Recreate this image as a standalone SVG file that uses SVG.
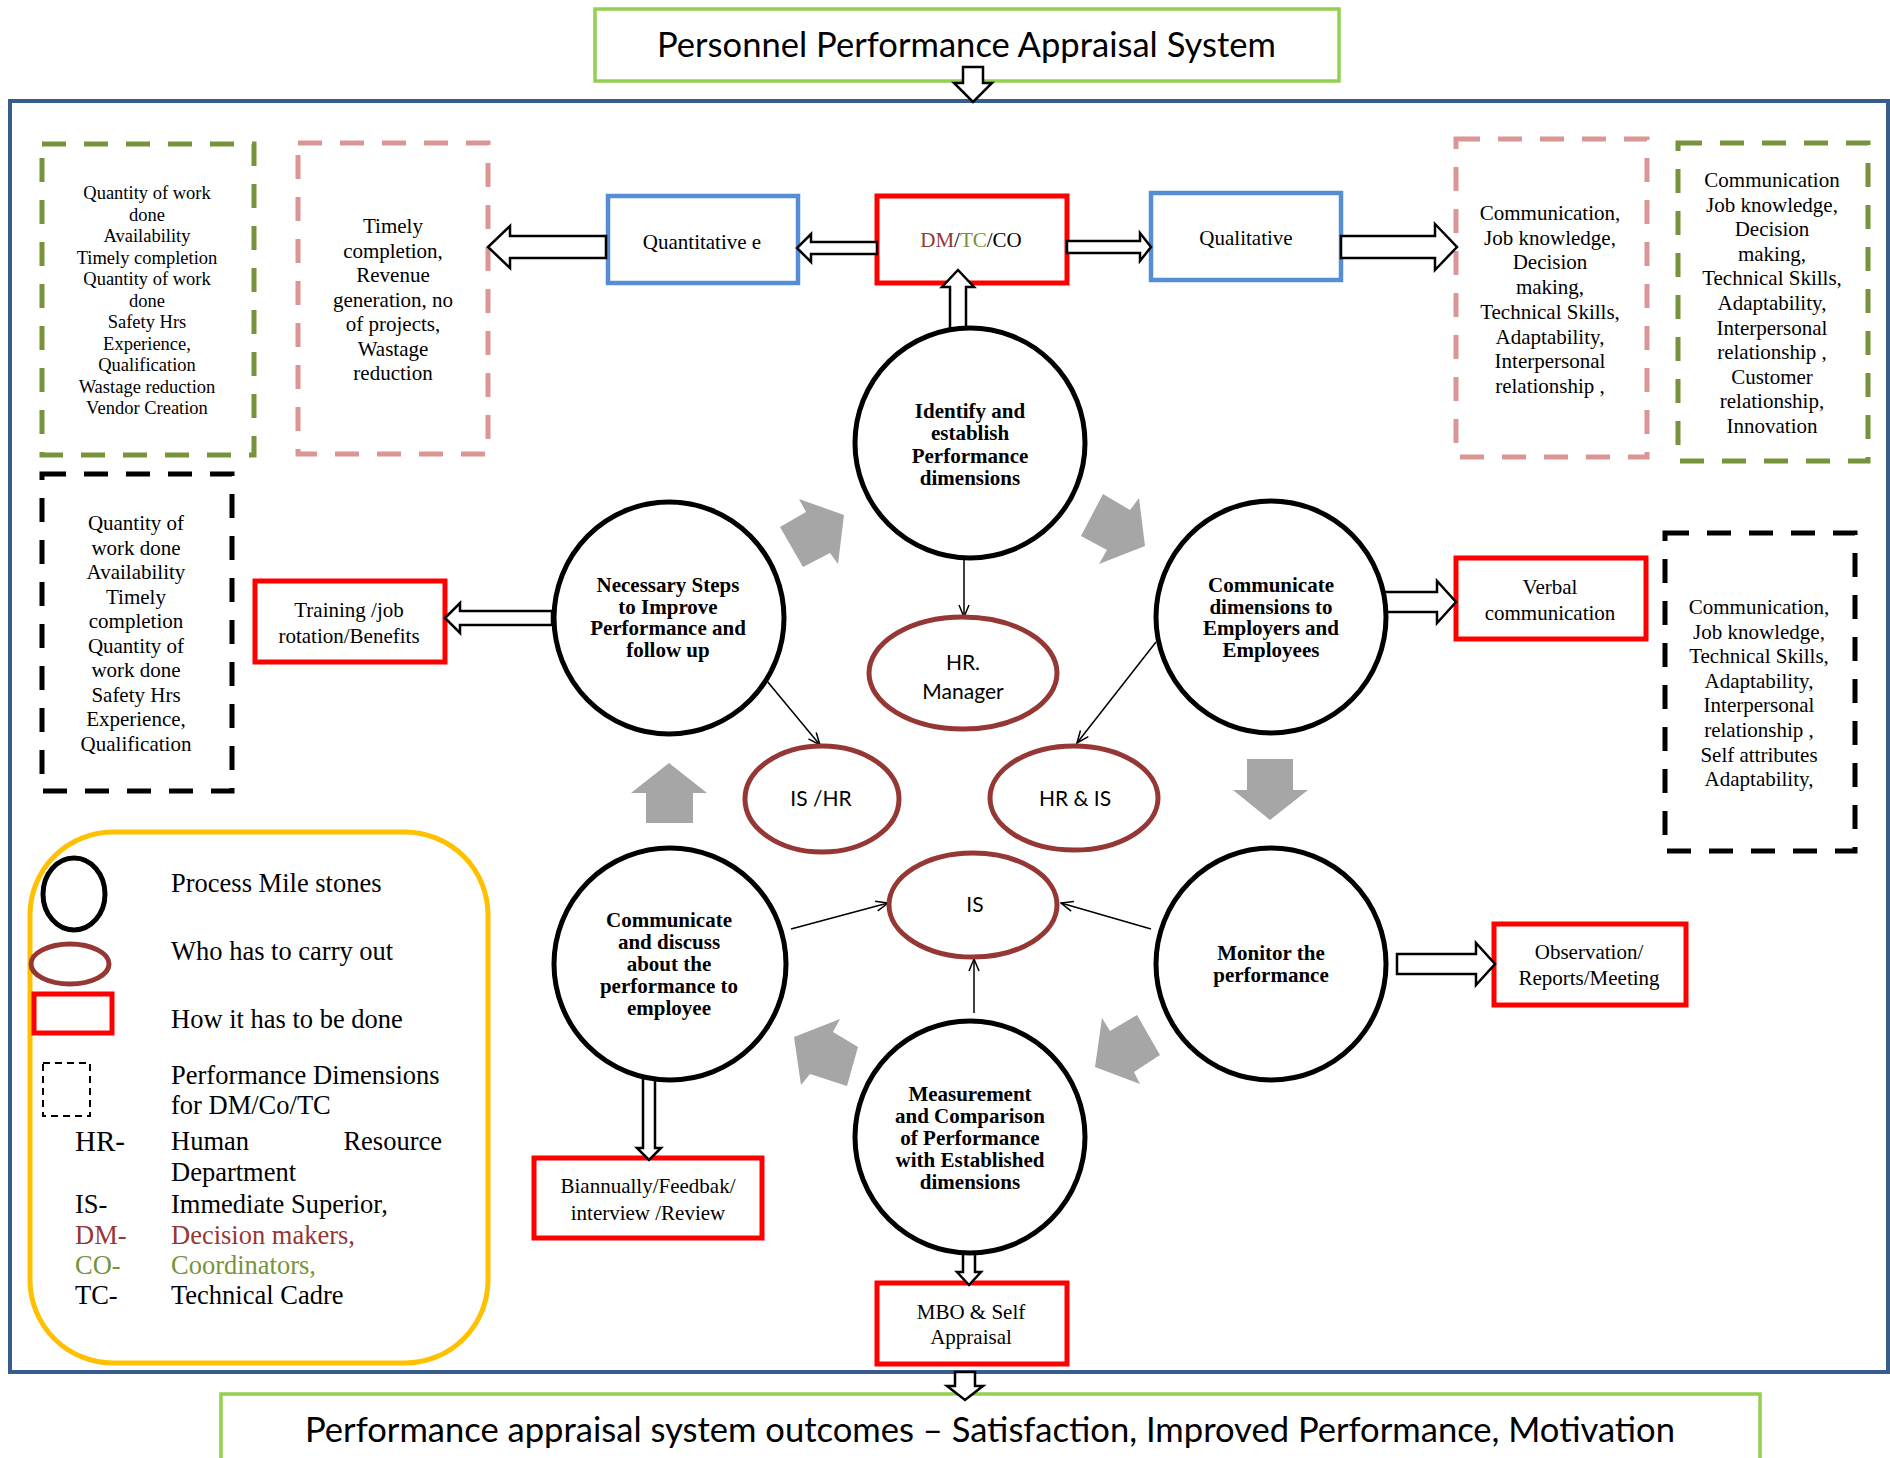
<svg xmlns="http://www.w3.org/2000/svg" width="1890" height="1458" viewBox="0 0 1890 1458">
  <defs>
    <marker id="open" viewBox="0 0 14 12" refX="13" refY="6" markerWidth="14" markerHeight="12" markerUnits="userSpaceOnUse" orient="auto">
      <path d="M1,1 L13,6 L1,11" fill="none" stroke="#000" stroke-width="1.5"/>
    </marker>
  </defs>
  <style>
    .serif { font-family: "Liberation Serif", "Times New Roman", serif; fill: #000; }
    .sans { font-family: Lato, "Liberation Sans", sans-serif; fill: #000; }
    .t21 { font-size: 21px; text-anchor: middle; }
    .t18 { font-size: 18.5px; text-anchor: middle; }
    .bold { font-size: 21px; font-weight: bold; text-anchor: middle; }
    .leg { font-size: 26.5px; }
    .mile { fill: #fff; stroke: #000; stroke-width: 5; }
    .who { fill: #fff; stroke: #953735; stroke-width: 5; }
    .how { fill: #fff; stroke: #FF0000; stroke-width: 5; }
    .kind { fill: #fff; stroke: #558ED5; stroke-width: 4.5; }
    .dash { fill: none; stroke-width: 5; stroke-dasharray: 24 18; }
    .hollow { fill: #fff; stroke: #000; stroke-width: 2.5; stroke-linejoin: miter; }
    .flow { fill: #A6A6A6; }
    .thin { fill: none; stroke: #000; stroke-width: 1.5; marker-end: url(#open); }
    .dm { fill: #953735; }
    .co { fill: #77933C; }
  </style>

  <rect width="1890" height="1458" fill="#fff"/>

  <!-- outer system frame -->
  <rect id="frame" x="10" y="101" width="1878" height="1271" fill="none" stroke="#385D8A" stroke-width="4"/>

  <!-- title -->
  <g id="title">
    <rect x="595" y="9" width="744" height="72" fill="#fff" stroke="#92D050" stroke-width="3.5"/>
    <text class="sans" x="657" y="57" font-size="34" textLength="619" lengthAdjust="spacingAndGlyphs">Personnel Performance Appraisal System</text>
  </g>

  <!-- outcomes -->
  <g id="outcomes">
    <rect x="221" y="1394" width="1539" height="80" fill="#fff" stroke="#92D050" stroke-width="3.5"/>
    <text class="sans" x="305" y="1442" font-size="34" textLength="1370" lengthAdjust="spacingAndGlyphs">Performance appraisal system outcomes – Satisfaction, Improved Performance, Motivation</text>
  </g>

  <!-- dimension lists -->
  <g id="dims-co-quant">
    <rect class="dash" x="42" y="144" width="212" height="311" stroke="#77933C"/>
    <g class="serif t18">
      <text x="147" y="199">Quantity of work</text>
      <text x="147" y="220.5">done</text>
      <text x="147" y="242">Availability</text>
      <text x="147" y="263.5">Timely completion</text>
      <text x="147" y="285">Quantity of work</text>
      <text x="147" y="306.5">done</text>
      <text x="147" y="328">Safety Hrs</text>
      <text x="147" y="349.5">Experience,</text>
      <text x="147" y="371">Qualification</text>
      <text x="147" y="392.5">Wastage reduction</text>
      <text x="147" y="414">Vendor Creation</text>
    </g>
  </g>

  <g id="dims-dm-quant">
    <rect class="dash" x="298" y="143" width="190" height="311" stroke="#D99694"/>
    <g class="serif t21">
      <text x="393" y="233">Timely</text>
      <text x="393" y="257.5">completion,</text>
      <text x="393" y="282">Revenue</text>
      <text x="393" y="306.5">generation, no</text>
      <text x="393" y="331">of projects,</text>
      <text x="393" y="355.5">Wastage</text>
      <text x="393" y="380">reduction</text>
    </g>
  </g>

  <g id="dims-dm-qual">
    <rect class="dash" x="1456" y="139" width="191" height="318" stroke="#D99694"/>
    <g class="serif t21">
      <text x="1550" y="220">Communication,</text>
      <text x="1550" y="244.7">Job knowledge,</text>
      <text x="1550" y="269.4">Decision</text>
      <text x="1550" y="294.1">making,</text>
      <text x="1550" y="318.8">Technical Skills,</text>
      <text x="1550" y="343.5">Adaptability,</text>
      <text x="1550" y="368.2">Interpersonal</text>
      <text x="1550" y="392.9">relationship ,</text>
    </g>
  </g>

  <g id="dims-co-qual">
    <rect class="dash" x="1678" y="143" width="190" height="318" stroke="#77933C"/>
    <g class="serif t21">
      <text x="1772" y="187">Communication</text>
      <text x="1772" y="211.6">Job knowledge,</text>
      <text x="1772" y="236.2">Decision</text>
      <text x="1772" y="260.8">making,</text>
      <text x="1772" y="285.4">Technical Skills,</text>
      <text x="1772" y="310">Adaptability,</text>
      <text x="1772" y="334.6">Interpersonal</text>
      <text x="1772" y="359.2">relationship ,</text>
      <text x="1772" y="383.8">Customer</text>
      <text x="1772" y="408.4">relationship,</text>
      <text x="1772" y="433">Innovation</text>
    </g>
  </g>

  <g id="dims-tc-quant">
    <rect class="dash" x="42" y="474" width="190" height="317" stroke="#000"/>
    <g class="serif t21">
      <text x="136" y="530">Quantity of</text>
      <text x="136" y="554.5">work done</text>
      <text x="136" y="579">Availability</text>
      <text x="136" y="603.5">Timely</text>
      <text x="136" y="628">completion</text>
      <text x="136" y="652.5">Quantity of</text>
      <text x="136" y="677">work done</text>
      <text x="136" y="701.5">Safety Hrs</text>
      <text x="136" y="726">Experience,</text>
      <text x="136" y="750.5">Qualification</text>
    </g>
  </g>

  <g id="dims-tc-qual">
    <rect class="dash" x="1665" y="533" width="190" height="318" stroke="#000"/>
    <g class="serif t21">
      <text x="1759" y="614">Communication,</text>
      <text x="1759" y="638.6">Job knowledge,</text>
      <text x="1759" y="663.2">Technical Skills,</text>
      <text x="1759" y="687.8">Adaptability,</text>
      <text x="1759" y="712.4">Interpersonal</text>
      <text x="1759" y="737">relationship ,</text>
      <text x="1759" y="761.6">Self attributes</text>
      <text x="1759" y="786.2">Adaptability,</text>
    </g>
  </g>

  <!-- category boxes -->
  <g id="quantitative">
    <rect class="kind" x="608" y="196" width="190" height="87"/>
    <text class="serif t21" x="702" y="249">Quantitative e</text>
  </g>
  <g id="qualitative">
    <rect class="kind" x="1151" y="193" width="190" height="87"/>
    <text class="serif t21" x="1246" y="245">Qualitative</text>
  </g>

  <!-- how-it-is-done boxes -->
  <g id="dm-tc-co">
    <rect class="how" x="877" y="196" width="190" height="87"/>
    <text class="serif t21" x="971" y="247"><tspan class="dm">DM</tspan>/<tspan class="co">TC</tspan>/CO</text>
  </g>
  <g id="training">
    <rect class="how" x="255" y="581" width="190" height="81"/>
    <text class="serif t21" x="349" y="617">Training /job</text>
    <text class="serif t21" x="349" y="643">rotation/Benefits</text>
  </g>
  <g id="verbal">
    <rect class="how" x="1456" y="558" width="190" height="81"/>
    <text class="serif t21" x="1550" y="594">Verbal</text>
    <text class="serif t21" x="1550" y="620">communication</text>
  </g>
  <g id="observation">
    <rect class="how" x="1494" y="924" width="192" height="81"/>
    <text class="serif t21" x="1589" y="959">Observation/</text>
    <text class="serif t21" x="1589" y="985">Reports/Meeting</text>
  </g>
  <g id="biannually">
    <rect class="how" x="534" y="1158" width="228" height="80"/>
    <text class="serif t21" x="648" y="1193">Biannually/Feedbak/</text>
    <text class="serif t21" x="648" y="1220">interview /Review</text>
  </g>
  <g id="mbo">
    <rect class="how" x="877" y="1283" width="190" height="81"/>
    <text class="serif t21" x="971" y="1319">MBO &amp; Self</text>
    <text class="serif t21" x="971" y="1344">Appraisal</text>
  </g>

  <!-- connectors -->
  <g id="connectors">
    <polygon class="hollow" points="963,67 983,67 983,83 992,83 973,102 954,83 963,83"/>
    <polygon class="hollow" points="955,1372 975,1372 975,1386 983,1386 965,1400 947,1386 955,1386"/>
    <polygon class="hollow" points="950,330 950,287 942,287 958,270 974,287 966,287 966,330"/>
    <polygon class="hollow" points="877,242 811,242 811,234 797,248 811,262 811,254 877,254"/>
    <polygon class="hollow" points="1067,241 1140,241 1140,233 1151,247 1140,261 1140,253 1067,253"/>
    <polygon class="hollow" points="606,236 510,236 510,226 488,247 510,268 510,258 606,258"/>
    <polygon class="hollow" points="1341,236 1435,236 1435,224 1457,247 1435,270 1435,258 1341,258"/>
    <polygon class="hollow" points="552,611 460,611 460,603 445,618 460,633 460,625 552,625"/>
    <polygon class="hollow" points="1375,592 1437,592 1437,581 1456,602 1437,623 1437,612 1375,612"/>
    <polygon class="hollow" points="1397,954 1476,954 1476,943 1495,964 1476,985 1476,974 1397,974"/>
    <polygon class="hollow" points="643,1076 655,1076 655,1148 661,1148 649,1160 637,1148 643,1148"/>
    <polygon class="hollow" points="963,1250 975,1250 975,1272 981,1272 969,1285 957,1272 963,1272"/>

    <!-- cycle direction -->
    <polygon class="flow" points="780,527 806,512 799,499 844,515 838,564 830,553 803,567"/>
    <polygon class="flow" points="1103,494 1130,510 1139,498 1145,546 1099,564 1107,550 1081,536"/>
    <polygon class="flow" points="1247,759 1293,759 1293,790 1308,790 1270,820 1233,790 1247,790"/>
    <polygon class="flow" points="1137,1015 1160,1055 1134,1072 1140,1084 1095,1067 1102,1018 1110,1031"/>
    <polygon class="flow" points="840,1019 833,1032 858,1047 847,1086 810,1074 801,1085 794,1037"/>
    <polygon class="flow" points="646,823 693,823 693,793 707,793 669,763 631,793 646,793"/>

    <!-- responsibility links -->
    <line class="thin" x1="964" y1="558" x2="964" y2="617"/>
    <line class="thin" x1="762" y1="675" x2="820" y2="745"/>
    <line class="thin" x1="1156" y1="642" x2="1077" y2="743"/>
    <line class="thin" x1="791" y1="929" x2="888" y2="903"/>
    <line class="thin" x1="1151" y1="929" x2="1061" y2="903"/>
    <line class="thin" x1="974" y1="1013" x2="974" y2="959"/>
  </g>

  <!-- process milestones -->
  <g id="identify">
    <ellipse class="mile" cx="970" cy="443" rx="115" ry="115"/>
    <g class="serif bold">
      <text x="970" y="418">Identify and</text>
      <text x="970" y="440">establish</text>
      <text x="970" y="463">Performance</text>
      <text x="970" y="485">dimensions</text>
    </g>
  </g>
  <g id="communicate-dims">
    <ellipse class="mile" cx="1271" cy="617" rx="115" ry="116"/>
    <g class="serif bold">
      <text x="1271" y="592">Communicate</text>
      <text x="1271" y="614">dimensions to</text>
      <text x="1271" y="635">Employers and</text>
      <text x="1271" y="657">Employees</text>
    </g>
  </g>
  <g id="monitor">
    <ellipse class="mile" cx="1271" cy="964" rx="115" ry="116"/>
    <g class="serif bold">
      <text x="1271" y="960">Monitor the</text>
      <text x="1271" y="982">performance</text>
    </g>
  </g>
  <g id="measurement">
    <ellipse class="mile" cx="970" cy="1137" rx="115" ry="116"/>
    <g class="serif bold">
      <text x="970" y="1101">Measurement</text>
      <text x="970" y="1123">and Comparison</text>
      <text x="970" y="1145">of Performance</text>
      <text x="970" y="1167">with Established</text>
      <text x="970" y="1189">dimensions</text>
    </g>
  </g>
  <g id="communicate-discuss">
    <ellipse class="mile" cx="670" cy="964" rx="116" ry="116"/>
    <g class="serif bold">
      <text x="669" y="927">Communicate</text>
      <text x="669" y="949">and discuss</text>
      <text x="669" y="971">about the</text>
      <text x="669" y="993">performance to</text>
      <text x="669" y="1015">employee</text>
    </g>
  </g>
  <g id="necessary-steps">
    <ellipse class="mile" cx="669" cy="618" rx="115" ry="116"/>
    <g class="serif bold">
      <text x="668" y="592">Necessary Steps</text>
      <text x="668" y="614">to Improve</text>
      <text x="668" y="635">Performance and</text>
      <text x="668" y="657">follow up</text>
    </g>
  </g>

  <!-- who carries out -->
  <g id="hr-manager">
    <ellipse class="who" cx="963" cy="673" rx="94" ry="56"/>
    <text class="sans" x="963" y="670" font-size="21" text-anchor="middle">HR.</text>
    <text class="sans" x="963" y="699" font-size="21" text-anchor="middle">Manager</text>
  </g>
  <g id="is-hr">
    <ellipse class="who" cx="822" cy="799" rx="77" ry="53"/>
    <text class="sans" x="821" y="806" font-size="21" text-anchor="middle">IS /HR</text>
  </g>
  <g id="hr-is">
    <ellipse class="who" cx="1074" cy="798" rx="84" ry="52"/>
    <text class="sans" x="1075" y="806" font-size="21" text-anchor="middle">HR &amp; IS</text>
  </g>
  <g id="is">
    <ellipse class="who" cx="973" cy="905" rx="84" ry="52"/>
    <text class="sans" x="975" y="912" font-size="21" text-anchor="middle">IS</text>
  </g>

  <!-- legend -->
  <g id="legend">
    <rect x="30" y="832" width="458" height="531" rx="83" ry="83" fill="none" stroke="#FFC000" stroke-width="5"/>
    <ellipse cx="74" cy="894" rx="31" ry="36" fill="none" stroke="#000" stroke-width="5"/>
    <ellipse cx="70" cy="964" rx="39" ry="20" fill="none" stroke="#953735" stroke-width="5"/>
    <rect x="34" y="994" width="78" height="39" fill="none" stroke="#FF0000" stroke-width="5"/>
    <rect x="43" y="1063" width="47" height="53" fill="none" stroke="#000" stroke-width="2" stroke-dasharray="7 5"/>
    <g class="serif leg">
      <text x="171" y="892">Process Mile stones</text>
      <text x="171" y="960">Who has to carry out</text>
      <text x="171" y="1028">How it has to be done</text>
      <text x="171" y="1084">Performance Dimensions</text>
      <text x="171" y="1114">for DM/Co/TC</text>
      <text x="75" y="1151" font-size="29">HR-</text>
      <text x="171" y="1150">Human</text>
      <text x="442" y="1150" text-anchor="end">Resource</text>
      <text x="171" y="1181">Department</text>
      <text x="75" y="1213">IS-</text>
      <text x="171" y="1213">Immediate Superior,</text>
      <text x="75" y="1244" class="dm">DM-</text>
      <text x="171" y="1244" class="dm">Decision makers,</text>
      <text x="75" y="1274" class="co">CO-</text>
      <text x="171" y="1274" class="co">Coordinators,</text>
      <text x="75" y="1304">TC-</text>
      <text x="171" y="1304">Technical Cadre</text>
    </g>
  </g>
</svg>
